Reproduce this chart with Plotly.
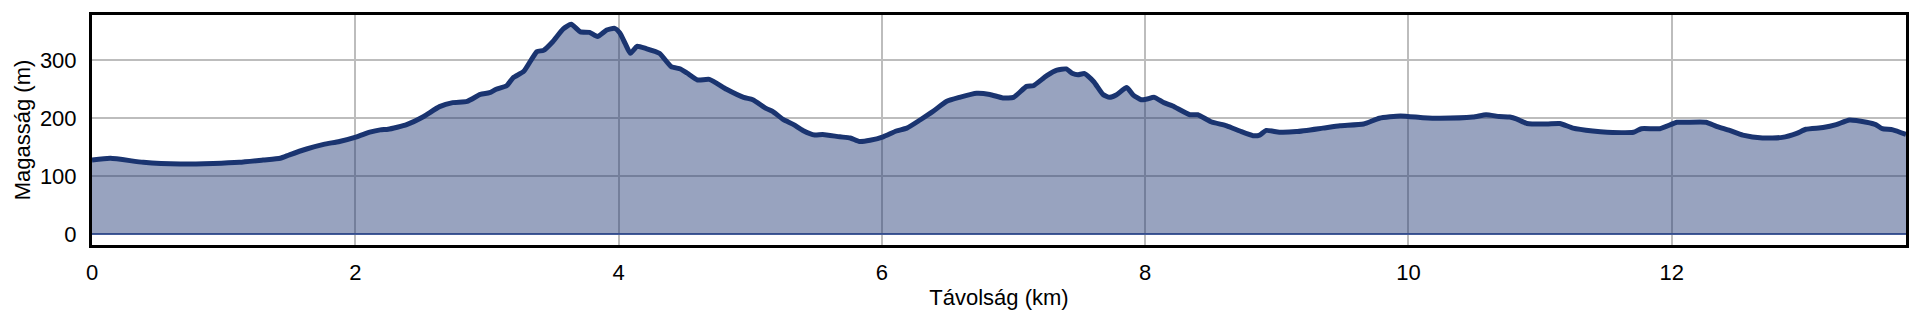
import plotly.graph_objects as go

distance_km = [0.00, 0.14, 0.39, 0.67, 0.92, 1.12, 1.30, 1.43, 1.50, 1.63, 1.76, 1.88, 2.01, 2.11, 2.19,
               2.25, 2.39, 2.52, 2.64, 2.74, 2.85, 2.95, 3.02, 3.07, 3.15, 3.20, 3.28, 3.38, 3.43,
               3.50, 3.58, 3.64, 3.71, 3.78, 3.84, 3.91, 3.97, 4.01, 4.05, 4.09, 4.14, 4.21, 4.31,
               4.40, 4.47, 4.52, 4.60, 4.69, 4.82, 4.95, 5.02, 5.12, 5.17, 5.25, 5.33, 5.40, 5.49,
               5.55, 5.68, 5.76, 5.83, 5.91, 6.01, 6.11, 6.19, 6.29, 6.39, 6.49, 6.59, 6.72, 6.82,
               6.92, 7.00, 7.10, 7.15, 7.25, 7.33, 7.40, 7.45, 7.49, 7.54, 7.61, 7.68, 7.73, 7.78,
               7.86, 7.91, 7.97, 8.01, 8.07, 8.14, 8.21, 8.34, 8.40, 8.50, 8.62, 8.72, 8.82, 8.87,
               8.92, 9.02, 9.15, 9.35, 9.48, 9.66, 9.78, 9.94, 10.11, 10.24, 10.49, 10.59, 10.69,
               10.77, 10.82, 10.90, 11.05, 11.15, 11.25, 11.40, 11.51, 11.71, 11.77, 11.91, 12.04,
               12.11, 12.26, 12.34, 12.44, 12.54, 12.69, 12.84, 12.95, 13.02, 13.15, 13.25, 13.35,
               13.48, 13.55, 13.60, 13.68, 13.78]
elevation_m = [128, 131, 124, 121, 122, 124, 128, 131, 137, 147, 155, 160, 168, 176, 180,
               181, 189, 203, 220, 227, 229, 241, 244, 250, 256, 270, 281, 315, 317,
               332, 354, 362, 349, 348, 341, 352, 355, 347, 329, 312, 324, 320, 312,
               289, 285, 278, 266, 267, 250, 236, 232, 217, 212, 198, 189, 179, 171,
               172, 168, 166, 160, 162, 168, 178, 183, 197, 212, 229, 236, 243, 241,
               235, 236, 255, 256, 273, 283, 285, 277, 275, 277, 263, 241, 236, 240,
               253, 240, 232, 233, 236, 227, 221, 206, 206, 194, 187, 178, 170, 171,
               179, 176, 177, 183, 187, 190, 200, 204, 201, 200, 202, 206, 203,
               202, 199, 191, 190, 191, 183, 178, 176, 176, 182, 182, 193,
               193, 193, 186, 179, 171, 166, 167, 174, 181, 184, 189, 197,
               193, 189, 182, 180, 172]

x_ticks = [0, 2, 4, 6, 8, 10, 12]
y_ticks = [0, 100, 200, 300]

FONT = "Liberation Sans, Arial, sans-serif"

fig = go.Figure()
fig.add_trace(go.Scatter(
    x=distance_km, y=elevation_m, mode="lines",
    line=dict(color="#1a3470", width=5, shape="spline", smoothing=0.5),
    fill="tozeroy", fillcolor="rgba(26,52,112,0.45)",
    hoverinfo="skip", showlegend=False,
))

# page body has an 8px margin, so the figure is sized to fit the 1920x320 view
fig.update_layout(
    width=1904, height=304,
    margin=dict(l=84, r=6, t=7, b=67),
    paper_bgcolor="white", plot_bgcolor="white",
    font=dict(family=FONT, size=22, color="black"),
)
fig.update_xaxes(
    range=[0, 13.78], tickvals=x_ticks, ticktext=[str(v) for v in x_ticks],
    showgrid=True, gridcolor="#bdbdbd", gridwidth=1.5, zeroline=False,
    showline=True, linecolor="black", linewidth=3, mirror=True,
    ticks="outside", ticklen=6, tickcolor="rgba(0,0,0,0)",
    automargin=False,
    title=dict(text="Távolság (km)", standoff=6, font=dict(size=22)),
)
fig.update_yaxes(
    range=[-18.5, 378], tickvals=y_ticks, ticktext=[str(v) for v in y_ticks],
    showgrid=True, gridcolor="#bdbdbd", gridwidth=1.5,
    zeroline=True, zerolinecolor="#4a63a0", zerolinewidth=2,
    showline=True, linecolor="black", linewidth=3, mirror=True,
    ticks="outside", ticklen=8, tickcolor="rgba(0,0,0,0)",
    automargin=False,
    title=dict(text="Magasság (m)", standoff=4, font=dict(size=22)),
)

fig.write_html("out.html")
